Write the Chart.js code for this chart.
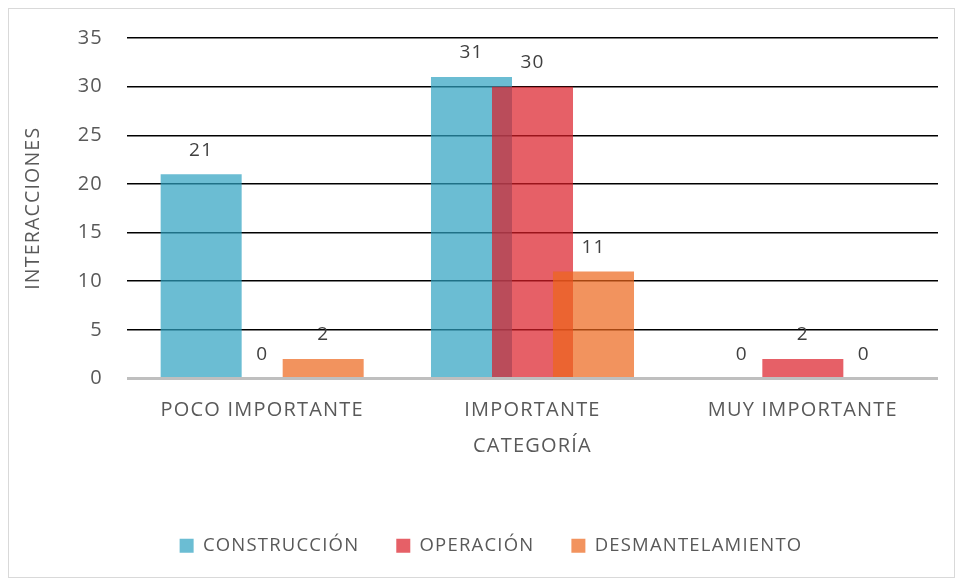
<!DOCTYPE html>
<html>
<head>
<meta charset="utf-8">
<script src="https://cdn.jsdelivr.net/npm/chart.js@4.4.1/dist/chart.umd.min.js"></script>
<style>
html,body{margin:0;padding:0;background:#fff;}
#wrap{width:956px;height:579px;position:relative;}
</style>
</head>
<body>
<div id="wrap"><canvas id="c" width="956" height="579"></canvas></div>
<script>
const categories = ['POCO IMPORTANTE', 'IMPORTANTE', 'MUY IMPORTANTE'];
const construccion = [21, 31, 0];
const operacion = [0, 30, 2];
const desmantelamiento = [2, 11, 0];
const seriesNames = ['CONSTRUCCIÓN', 'OPERACIÓN', 'DESMANTELAMIENTO'];
const yTicks = [0, 5, 10, 15, 20, 25, 30, 35];

const FONT = '"Open Sans", Lato, sans-serif';
const SPACING = '1.2px';

const spacing = {
  id: 'spacing',
  beforeUpdate(chart) { chart.ctx.letterSpacing = SPACING; },
  beforeLayout(chart) { chart.ctx.letterSpacing = SPACING; },
  beforeDraw(chart) { chart.ctx.letterSpacing = SPACING; }
};

const legendShift = {
  id: 'legendShift',
  afterLayout(chart) {
    if (chart.legend) {
      chart.legend.left += 17;
      chart.legend.right += 17;
    }
  }
};

const drawInOrder = {
  id: 'drawInOrder',
  beforeDatasetsDraw(chart) {
    for (let i = 0; i < chart.data.datasets.length; i++) {
      const meta = chart.getDatasetMeta(i);
      if (meta.visible) meta.controller.draw();
    }
    return false;
  }
};

const valueLabels = {
  id: 'valueLabels',
  afterDraw(chart) {
    const ctx = chart.ctx;
    ctx.save();
    ctx.font = '19px ' + FONT;
    ctx.fillStyle = '#404040';
    ctx.textAlign = 'center';
    ctx.textBaseline = 'middle';
    chart.data.datasets.forEach((ds, i) => {
      const meta = chart.getDatasetMeta(i);
      meta.data.forEach((bar, j) => {
        ctx.fillText(String(ds.data[j]), bar.x, bar.y - 24);
      });
    });
    ctx.restore();
  }
};

const frame = {
  id: 'frame',
  afterDraw(chart) {
    const ctx = chart.ctx;
    ctx.save();
    ctx.strokeStyle = '#D9D9D9';
    ctx.lineWidth = 1;
    ctx.strokeRect(8.5, 8.5, 946, 569);
    ctx.restore();
  }
};

new Chart(document.getElementById('c'), {
  type: 'bar',
  data: {
    labels: categories,
    datasets: [
      { label: seriesNames[0], data: construccion, backgroundColor: 'rgba(44,161,192,0.7)' },
      { label: seriesNames[1], data: operacion, backgroundColor: 'rgba(219,28,39,0.7)' },
      { label: seriesNames[2], data: desmantelamiento, backgroundColor: 'rgba(236,101,25,0.7)' }
    ]
  },
  options: {
    responsive: false,
    animation: false,
    devicePixelRatio: 1,
    categoryPercentage: 0.677,
    barPercentage: 1.328,
    layout: { padding: { left: 10, right: 18, top: 38, bottom: 14 } },
    plugins: {
      legend: {
        position: 'bottom',
        labels: {
          font: { family: FONT, size: 18.5 },
          color: '#595959',
          boxWidth: 14,
          boxHeight: 14,
          padding: 37
        }
      },
      tooltip: { enabled: false }
    },
    scales: {
      x: {
        afterFit(scale) { scale.height = 121; },
        grid: { display: false, drawTicks: false },
        border: { display: false },
        ticks: { font: { family: FONT, size: 20 }, color: '#595959', padding: 20 },
        title: {
          display: true, text: 'CATEGORÍA',
          font: { family: FONT, size: 20 }, color: '#595959',
          padding: { top: 0, bottom: 41 }
        }
      },
      y: {
        min: 0, max: 35,
        afterBuildTicks(scale) { scale.ticks = yTicks.map(v => ({ value: v })); },
        afterFit(scale) { scale.width = 117; },
        grid: {
          drawTicks: false,
          color: (c) => c.tick && c.tick.value === 0 ? '#BFBFBF' : '#000000',
          lineWidth: (c) => c.tick && c.tick.value === 0 ? 3 : 1.5
        },
        border: { display: false },
        ticks: { font: { family: FONT, size: 20 }, color: '#595959', padding: 24 },
        title: {
          display: true, text: 'INTERACCIONES',
          font: { family: FONT, size: 19.5 }, color: '#595959',
          padding: { top: 12, bottom: 12 }
        }
      }
    }
  },
  plugins: [spacing, legendShift, drawInOrder, valueLabels, frame]
});
</script>
</body>
</html>
